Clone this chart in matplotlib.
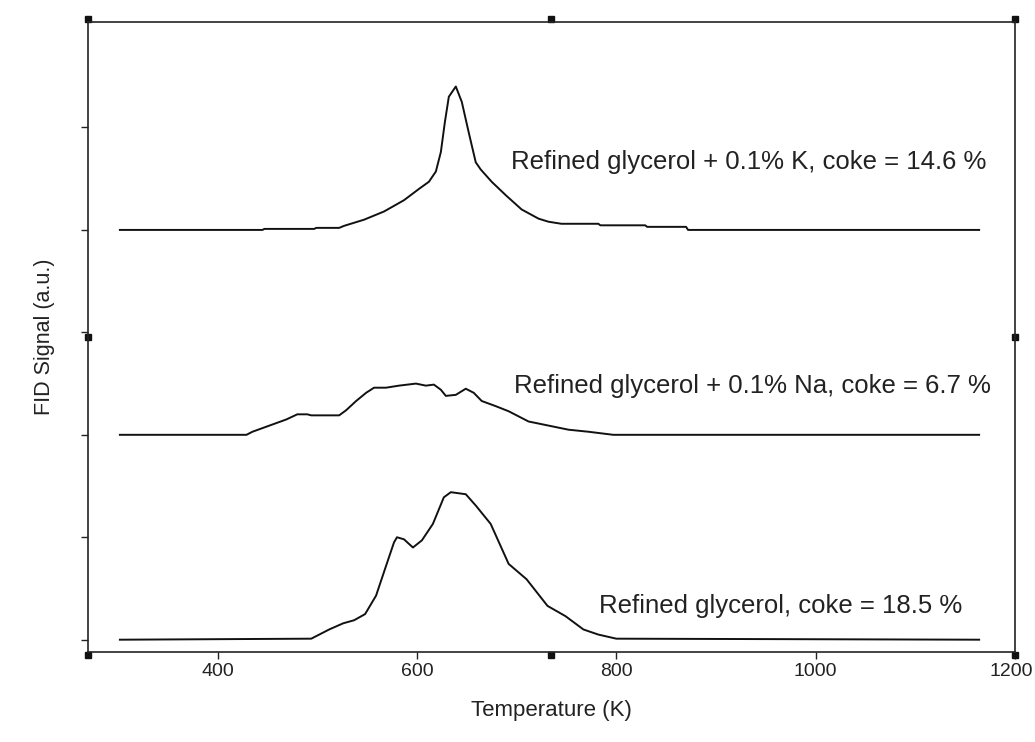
import matplotlib
matplotlib.use('Agg')
import matplotlib.pyplot as plt
import matplotlib.transforms as mtransforms
import numpy as np

plt.rcParams['font.family'] = ['Liberation Sans', 'DejaVu Sans']

# temperature (K) / FID signal (a.u.)
temp_k = [302, 445, 447, 497, 499, 522, 527, 547, 567, 587, 602, 612, 619, 624, 628,
          632, 639, 645, 652, 659, 664, 675, 689, 705, 722, 732, 745, 782, 784, 829,
          831, 870, 872, 1164]
sig_k = [0, 0, 0.01, 0.01, 0.02, 0.02, 0.04, 0.10, 0.18, 0.29, 0.40, 0.47, 0.57, 0.76, 1.05,
         1.30, 1.40, 1.25, 0.95, 0.66, 0.59, 0.47, 0.34, 0.20, 0.11, 0.08, 0.06, 0.06, 0.045, 0.045,
         0.03, 0.03, 0.0, 0.0]

temp_na = [302, 429, 435, 452, 469, 480, 490, 494, 522, 529, 539, 549, 557, 569, 582,
           599, 609, 617, 624, 629, 639, 649, 657, 665, 679, 692, 712, 732, 752, 772,
           797, 1164]
sig_na = [0, 0, 0.03, 0.09, 0.15, 0.20, 0.20, 0.19, 0.19, 0.24, 0.33, 0.41, 0.46, 0.46, 0.48,
          0.50, 0.48, 0.49, 0.44, 0.38, 0.39, 0.45, 0.41, 0.33, 0.28, 0.23, 0.13, 0.09, 0.05, 0.03,
          0.0, 0.0]

temp_ref = [302, 494, 512, 526, 537, 548, 559, 569, 577, 580, 587, 596, 605, 616, 627,
            634, 649, 659, 674, 692, 710, 731, 749, 767, 782, 800, 1164]
sig_ref = [0, 0.01, 0.10, 0.16, 0.19, 0.25, 0.43, 0.72, 0.95, 1.00, 0.98, 0.90, 0.97, 1.13, 1.39,
           1.44, 1.42, 1.31, 1.13, 0.74, 0.59, 0.33, 0.23, 0.10, 0.05, 0.01, 0.0]

labels = ['Refined glycerol + 0.1% K, coke = 14.6 %',
          'Refined glycerol + 0.1% Na, coke = 6.7 %',
          'Refined glycerol, coke = 18.5 %']
offsets = [4, 2, 0]
label_pos = [(933, 4.66), (937, 2.48), (965, 0.33)]

fig = plt.figure(figsize=(10.35, 7.42), dpi=100)
ax = fig.add_axes([0.085, 0.1213, 0.8957, 0.8491])

series = [(temp_k, sig_k), (temp_na, sig_na), (temp_ref, sig_ref)]
for (t, s), off in zip(series, offsets):
    ax.plot(t, np.array(s) + off, color='#111111', lw=1.4)

for txt, (x, y) in zip(labels, label_pos):
    ax.text(x, y, txt, ha='center', va='center', fontsize=18.5, color='#222222')

ax.set_xlim(270, 1200)
ax.set_ylim(-0.12, 6.03)
ax.set_xticks([400, 600, 800, 1000, 1200])
ax.set_yticks([0, 1, 2, 3, 4, 5])
ax.set_yticklabels([])
ax.tick_params(axis='both', direction='out', length=5, width=1, color='#222222',
               labelsize=14, labelcolor='#222222', pad=3)
for sp in ax.spines.values():
    sp.set_linewidth(1.2)
    sp.set_color('#222222')

# keep "1200" inside the canvas, as in the original
last = ax.get_xticklabels()[-1]
last.set_transform(last.get_transform() + mtransforms.ScaledTranslation(-4 / 100, 0, fig.dpi_scale_trans))

ax.set_xlabel('Temperature (K)', fontsize=16, color='#222222', labelpad=14)
ax.set_ylabel('FID Signal (a.u.)', fontsize=15.5, color='#222222', labelpad=16)

# little selection handles around the frame
hx = [0, 0.5, 1, 0, 1, 0, 0.5, 1]
hy = [1.005, 1.005, 1.005, 0.5, 0.5, -0.005, -0.005, -0.005]
ax.plot(hx, hy, 's', color='#111111', ms=4, transform=ax.transAxes, clip_on=False)

fig.savefig('out.png', dpi=100)
